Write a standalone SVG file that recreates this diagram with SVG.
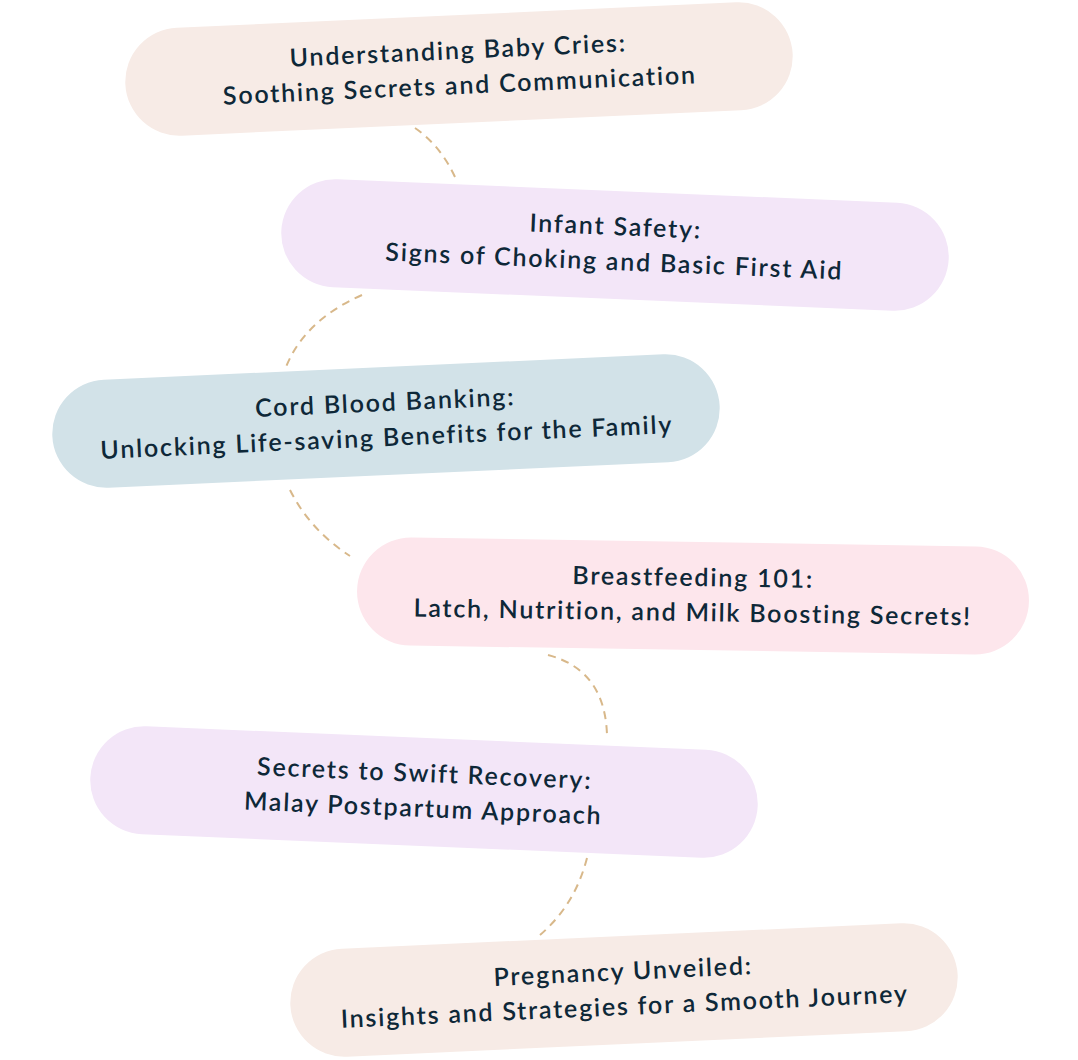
<svg xmlns="http://www.w3.org/2000/svg" width="1078" height="1060" viewBox="0 0 1078 1060">
<style>
.t{font-family:"Lato","Liberation Sans",sans-serif;font-size:25px;font-weight:600;fill:#0e2838;text-anchor:middle;letter-spacing:1.8px}
.c{fill:none;stroke:#d8b88a;stroke-width:2;stroke-dasharray:8 6}
</style>
<rect width="1078" height="1060" fill="#fff"/>
<g id="connectors">
<path class="c" d="M415,128 Q440,145 455,177"/>
<path class="c" d="M362,295 Q305,320 286,367"/>
<path class="c" d="M290,490 Q310,530 350,556"/>
<path class="c" d="M548,655 Q605,670 607,735"/>
<path class="c" d="M587,858 Q575,905 540,935"/>
</g>
<g id="n1" transform="translate(459,69) rotate(-2.6)">
<rect x="-334" y="-54" width="668" height="108" rx="54" fill="#f7ebe6"/>
<text class="t" y="-10">Understanding Baby Cries:</text>
<text class="t" y="25">Soothing Secrets and Communication</text>
</g>
<g id="n2" transform="translate(615,245) rotate(2.4)">
<rect x="-334" y="-54" width="668" height="108" rx="54" fill="#f3e6f8"/>
<text class="t" y="-10">Infant Safety:</text>
<text class="t" y="25">Signs of Choking and Basic First Aid</text>
</g>
<g id="n3" transform="translate(386,421) rotate(-2.6)">
<rect x="-334" y="-54" width="668" height="108" rx="54" fill="#d2e2e8"/>
<text class="t" y="-10">Cord Blood Banking:</text>
<text class="t" y="25">Unlocking Life-saving Benefits for the Family</text>
</g>
<g id="n4" transform="translate(693,596) rotate(0.9)">
<rect x="-336" y="-54" width="672" height="108" rx="54" fill="#fde6ec"/>
<text class="t" y="-10">Breastfeeding 101:</text>
<text class="t" y="25">Latch, Nutrition, and Milk Boosting Secrets!</text>
</g>
<g id="n5" transform="translate(424,792) rotate(2.4)">
<rect x="-334" y="-54" width="668" height="108" rx="54" fill="#f3e6f8"/>
<text class="t" y="-10">Secrets to Swift Recovery:</text>
<text class="t" y="25">Malay Postpartum Approach</text>
</g>
<g id="n6" transform="translate(624,990) rotate(-2.6)">
<rect x="-334" y="-54" width="668" height="108" rx="54" fill="#f7ebe6"/>
<text class="t" y="-10">Pregnancy Unveiled:</text>
<text class="t" y="25">Insights and Strategies for a Smooth Journey</text>
</g>
</svg>
